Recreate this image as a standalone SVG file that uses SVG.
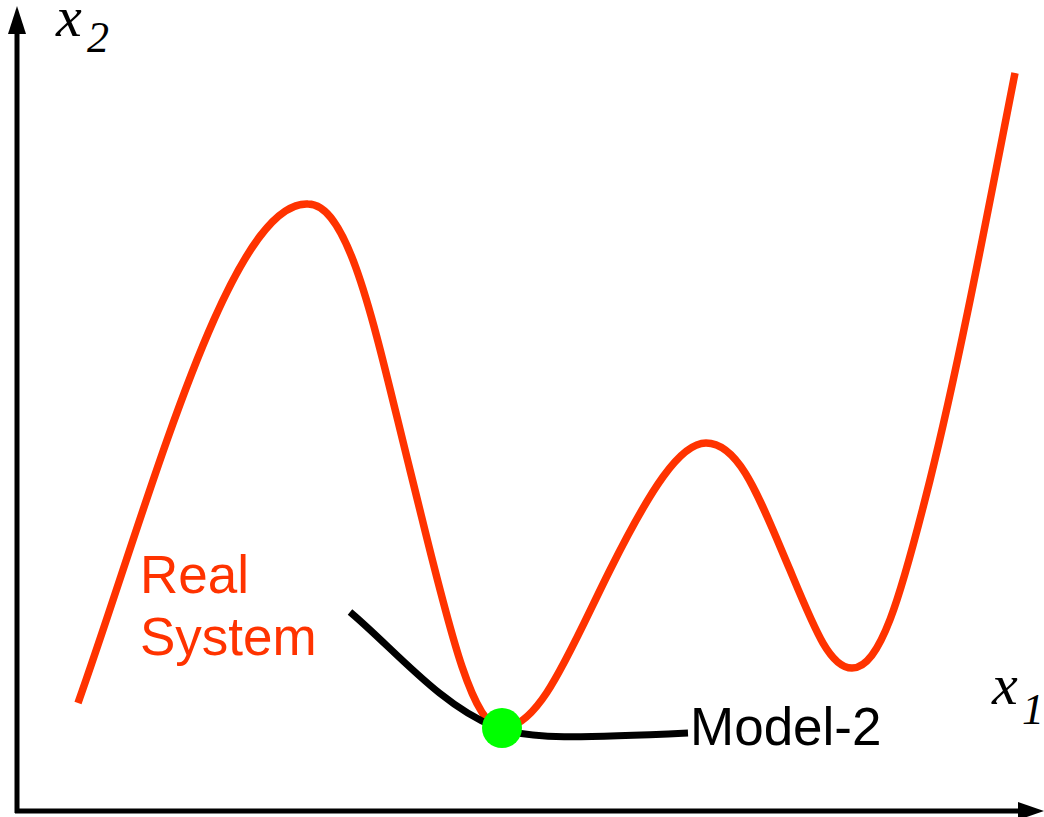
<svg xmlns="http://www.w3.org/2000/svg" width="1044" height="817" viewBox="0 0 1044 817">
<style>
.ax{stroke:#000;stroke-width:5;fill:none}
.ah{fill:#000}
.real{stroke:#ff3300;stroke-width:7.5;fill:none;stroke-linecap:butt}
.model{stroke:#000;stroke-width:7;fill:none}
.lab{font-family:"Liberation Sans",Arial,sans-serif;font-size:53px}
.var{font-family:"Liberation Serif","Times New Roman",serif;font-style:italic}
</style>
<rect width="1044" height="817" fill="#fff"/>
<g id="axes">
<line class="ax" x1="17" y1="813" x2="17" y2="28"/>
<polygon class="ah" points="17,6 26,34 8,34"/>
<line class="ax" x1="15" y1="811" x2="1024" y2="811"/>
<polygon class="ah" points="1044,811 1018,802 1018,820"/>
<text class="var" x="56" y="36" font-size="58">x</text>
<text class="var" x="87" y="52" font-size="44">2</text>
<text class="var" x="992" y="704" font-size="58">x</text>
<text class="var" x="1022" y="724" font-size="44">1</text>
</g>
<g id="connectors">
<path id="real-system-curve" class="real" d="M78,703 C150,500 230,200 308,204 C350,204 375,330 410,470 S470,728 502,728 C540,728 570,650 610,570 C650,490 680,443 706,443 C740,443 760,500 790,570 C815,630 830,668 852,668 C880,668 900,600 930,480 C960,360 990,200 1015,73"/>
<path id="model-2-curve" class="model" d="M350,612 C395,650 440,705 495,727 C530,740 580,738 688,733"/>
</g>
<g id="optimum">
<circle cx="502" cy="728" r="20" fill="#00ff00"/>
</g>
<g id="real-system-label">
<text class="lab" x="140" y="593" fill="#ff3300">Real</text>
<text class="lab" x="140" y="655" fill="#ff3300">System</text>
</g>
<g id="model-2-label">
<text class="lab" x="690" y="745" fill="#000">Model-2</text>
</g>
</svg>
